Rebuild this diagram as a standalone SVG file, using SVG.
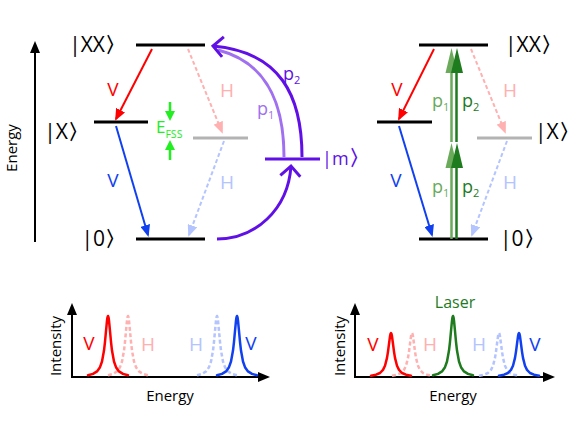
<svg xmlns="http://www.w3.org/2000/svg" width="581" height="421" viewBox="0 0 581 421">
<style>
text{font-family:"Open Sans","Noto Sans","DejaVu Sans",sans-serif}
.lvl{stroke:#000;stroke-width:3;fill:none}
.grey{stroke:#b3b3b3}
.st{font-size:21px;fill:#000}
.br{font-family:"DejaVu Sans",sans-serif;font-size:21px;font-weight:bold}
.lb{font-size:19px;text-anchor:middle}
.ax{stroke:#000;stroke-width:2;fill:none}
.axt{font-size:15px;fill:#000;text-anchor:middle}
.pk{fill:none;stroke-width:2.5;stroke-linejoin:round;stroke-linecap:round}
.dash{stroke-dasharray:4 2.5;stroke-linecap:butt}
.arr{fill:none;stroke-width:2}
.red{stroke:#ff0000}.fred{fill:#ff0000}
.blue{stroke:#1040f0}.fblue{fill:#1040f0}
.pink{stroke:#ffb0b0}.fpink{fill:#ffb0b0}
.lblue{stroke:#b4c4ff}.flblue{fill:#b4c4ff}
.dg{stroke:#1e7b1e}.fdg{fill:#1e7b1e}
.lg{stroke:#6aaa5a}.flg{fill:#6aaa5a}
.pur{stroke:#6010e6}.fpur{fill:#6010e6}
.lpur{stroke:#a070f0}.flpur{fill:#a070f0}
.p{font-size:18px}
.sub{font-size:11px}
</style>
<defs>
<marker id="hRed" viewBox="0 0 12 10" refX="10" refY="5" markerWidth="12" markerHeight="10" markerUnits="userSpaceOnUse" orient="auto"><path d="M0,0 L12,5 L0,10 z" fill="#ff0000"/></marker>
<marker id="hBlue" viewBox="0 0 12 10" refX="10" refY="5" markerWidth="12" markerHeight="10" markerUnits="userSpaceOnUse" orient="auto"><path d="M0,0 L12,5 L0,10 z" fill="#1040f0"/></marker>
<marker id="hPink" viewBox="0 0 12 10" refX="10" refY="5" markerWidth="12" markerHeight="10" markerUnits="userSpaceOnUse" orient="auto"><path d="M0,0 L12,5 L0,10 z" fill="#ffb0b0"/></marker>
<marker id="hLblue" viewBox="0 0 12 10" refX="10" refY="5" markerWidth="12" markerHeight="10" markerUnits="userSpaceOnUse" orient="auto"><path d="M0,0 L12,5 L0,10 z" fill="#b4c4ff"/></marker>
<marker id="chev" viewBox="-14 -12 16 24" refX="0" refY="0" markerWidth="16" markerHeight="24" markerUnits="userSpaceOnUse" orient="auto" overflow="visible"><path d="M-10,-10 L0,0 L-10,10" fill="none" stroke="#6010e6" stroke-width="3"/></marker>
<path id="pk61" d="M-20,-1.8 L-15,-3.1 L-11,-5.6 L-8,-9.8 L-6,-15.5 L-4,-26.4 L-3,-35.2 L-2,-46 L-1,-56.4 L-0.5,-59.8 L0,-61 L0.5,-59.8 L1,-56.4 L2,-46 L3,-35.2 L4,-26.4 L6,-15.5 L8,-9.8 L11,-5.6 L15,-3.1 L20,-1.8"/>
<path id="pk44" d="M-20,-1.3 L-15,-2.3 L-11,-4 L-8,-7.1 L-6,-11.2 L-4,-19.1 L-3,-25.4 L-2,-33.2 L-1,-40.7 L-0.5,-43.1 L0,-44 L0.5,-43.1 L1,-40.7 L2,-33.2 L3,-25.4 L4,-19.1 L6,-11.2 L8,-7.1 L11,-4 L15,-2.3 L20,-1.3"/>
</defs>

<!-- Left energy axis -->
<g id="energy-axis">
<line class="ax" x1="35" y1="242" x2="35" y2="50"/>
<polygon points="35,41 30,53 40,53" fill="#000"/>
<text class="axt" transform="translate(17,148) rotate(-90)">Energy</text>
</g>

<!-- Left level scheme -->
<g id="L-XX"><line class="lvl" x1="136" y1="45" x2="205" y2="45"/><text class="st" x="126" y="52" text-anchor="end">|XX<tspan class="br">〉</tspan></text></g>
<g id="L-X"><line class="lvl" x1="94" y1="122" x2="148" y2="122"/><text class="st" x="89" y="139" text-anchor="end">|X<tspan class="br">〉</tspan></text></g>
<g id="L-Xh"><line class="lvl grey" x1="193" y1="138" x2="248" y2="138"/></g>
<g id="L-0"><line class="lvl" x1="136" y1="239" x2="205" y2="239"/><text class="st" x="126" y="246" text-anchor="end">|0<tspan class="br">〉</tspan></text></g>
<g id="L-m"><line class="lvl pur" x1="265" y1="159" x2="320" y2="159"/><text class="fpur" font-size="18" x="322" y="165">|m<tspan class="br" font-size="18">〉</tspan></text></g>
<g id="L-EFSS">
<line stroke="#22ee22" stroke-width="2.5" x1="170" y1="102" x2="170" y2="113"/>
<polygon points="165,111 175,111 170,121" fill="#22ee22"/>
<line stroke="#22ee22" stroke-width="2.5" x1="170" y1="148" x2="170" y2="160"/>
<polygon points="165,150 175,150 170,140" fill="#22ee22"/>
<text fill="#22ee22" font-size="17" x="156" y="133">E<tspan font-size="10.5" dy="5">FSS</tspan></text>
</g>

<g id="L-connectors">
<line class="arr red" x1="152" y1="49" x2="116" y2="119" marker-end="url(#hRed)"/>
<line class="arr blue" x1="116" y1="126" x2="148" y2="235" marker-end="url(#hBlue)"/>
<line class="arr pink dash" x1="188" y1="49" x2="222" y2="132" marker-end="url(#hPink)"/>
<line class="arr lblue dash" x1="224" y1="141" x2="189" y2="235" marker-end="url(#hLblue)"/>
<path class="lpur" fill="none" stroke-width="3" d="M284,157 C284,100 265,62 218,50"/>
<path class="pur" fill="none" stroke-width="3" d="M302,157 C302,95 280,52 213,46" marker-end="url(#chev)"/>
<path class="pur" fill="none" stroke-width="3" d="M217,239 C255,239 288,210 291,166" marker-end="url(#chev)"/>
</g>
<g id="L-labels">
<text class="lb fred" x="113" y="96">V</text>
<text class="lb fblue" x="113" y="187">V</text>
<text class="lb fpink" x="227" y="97">H</text>
<text class="lb flblue" x="227" y="189">H</text>
<text class="p fpur" x="283" y="80">p<tspan class="sub" dy="4">2</tspan></text>
<text class="p flpur" x="257" y="115">p<tspan class="sub" dy="4">1</tspan></text>
</g>

<!-- Right level scheme -->
<g id="R-XX"><line class="lvl" x1="419" y1="45" x2="488" y2="45"/><text class="st" x="505" y="52">|XX<tspan class="br">〉</tspan></text></g>
<g id="R-X"><line class="lvl" x1="377" y1="122" x2="432" y2="122"/></g>
<g id="R-Xh"><line class="lvl grey" x1="477" y1="138" x2="532" y2="138"/><text class="st" x="535" y="139">|X<tspan class="br">〉</tspan></text></g>
<g id="R-0"><line class="lvl" x1="419" y1="239" x2="488" y2="239"/><text class="st" x="500" y="246">|0<tspan class="br">〉</tspan></text></g>

<g id="R-connectors">
<line class="arr red" x1="434" y1="49" x2="399" y2="119" marker-end="url(#hRed)"/>
<line class="arr blue" x1="399" y1="126" x2="432" y2="235" marker-end="url(#hBlue)"/>
<line class="arr pink dash" x1="471" y1="49" x2="505" y2="132" marker-end="url(#hPink)"/>
<line class="arr lblue dash" x1="507" y1="141" x2="472" y2="235" marker-end="url(#hLblue)"/>
<line class="lg" stroke-width="2.5" x1="451.5" y1="239" x2="451.5" y2="166"/>
<line class="lg" stroke-width="2.5" x1="451.5" y1="142" x2="451.5" y2="71"/>
<polygon class="flg" points="451.5,143 445.5,168 457.5,168"/>
<polygon class="flg" points="451.5,48 445.5,73 457.5,73"/>
<line class="dg" stroke-width="2.5" x1="456.5" y1="239" x2="456.5" y2="166"/>
<line class="dg" stroke-width="2.5" x1="456.5" y1="142" x2="456.5" y2="71"/>
<polygon class="fdg" points="457,143 451,168 463,168"/>
<polygon class="fdg" points="457,48 451,73 463,73"/>
</g>
<g id="R-labels">
<text class="lb fred" x="397" y="96">V</text>
<text class="lb fblue" x="396" y="187">V</text>
<text class="lb fpink" x="510" y="97">H</text>
<text class="lb flblue" x="510" y="189">H</text>
<text class="p flg" x="432" y="107">p<tspan class="sub" dy="4">1</tspan></text>
<text class="p fdg" x="462" y="107">p<tspan class="sub" dy="4">2</tspan></text>
<text class="p flg" x="432" y="193">p<tspan class="sub" dy="4">1</tspan></text>
<text class="p fdg" x="462" y="193">p<tspan class="sub" dy="4">2</tspan></text>
</g>

<!-- Left spectrum -->
<g id="spec-left">
<line class="ax" x1="72" y1="378" x2="72" y2="313"/>
<polygon points="72,303 67,315 77,315" fill="#000"/>
<line class="ax" x1="71" y1="377" x2="260" y2="377"/>
<polygon points="270,377 258,372 258,382" fill="#000"/>
<use href="#pk61" x="128" y="377" class="pk pink dash"/>
<use href="#pk61" x="217" y="377" class="pk lblue dash"/>
<use href="#pk61" x="108" y="377" class="pk red"/>
<use href="#pk61" x="237" y="377" class="pk blue"/>
<text class="lb fred" x="89" y="350">V</text>
<text class="lb fpink" x="148" y="351">H</text>
<text class="lb flblue" x="196" y="351">H</text>
<text class="lb fblue" x="251" y="350">V</text>
<text class="axt" transform="translate(61,346) rotate(-90)">Intensity</text>
<text class="axt" x="170" y="401">Energy</text>
</g>

<!-- Right spectrum -->
<g id="spec-right">
<line class="ax" x1="355" y1="378" x2="355" y2="313"/>
<polygon points="355,303 350,315 360,315" fill="#000"/>
<line class="ax" x1="354" y1="377" x2="545" y2="377"/>
<polygon points="555,377 543,372 543,382" fill="#000"/>
<use href="#pk44" x="412" y="377" class="pk pink dash"/>
<use href="#pk44" x="499" y="377" class="pk lblue dash"/>
<use href="#pk44" x="391" y="377" class="pk red"/>
<use href="#pk44" x="519" y="377" class="pk blue"/>
<use href="#pk61" x="453" y="377" class="pk dg"/>
<text class="lb fred" x="373" y="351">V</text>
<text class="lb fpink" x="430" y="351">H</text>
<text class="lb flblue" x="479" y="351">H</text>
<text class="lb fblue" x="535" y="351">V</text>
<text class="fdg" font-size="16" text-anchor="middle" x="455" y="308">Laser</text>
<text class="axt" transform="translate(345,346) rotate(-90)">Intensity</text>
<text class="axt" x="453" y="401">Energy</text>
</g>
</svg>
